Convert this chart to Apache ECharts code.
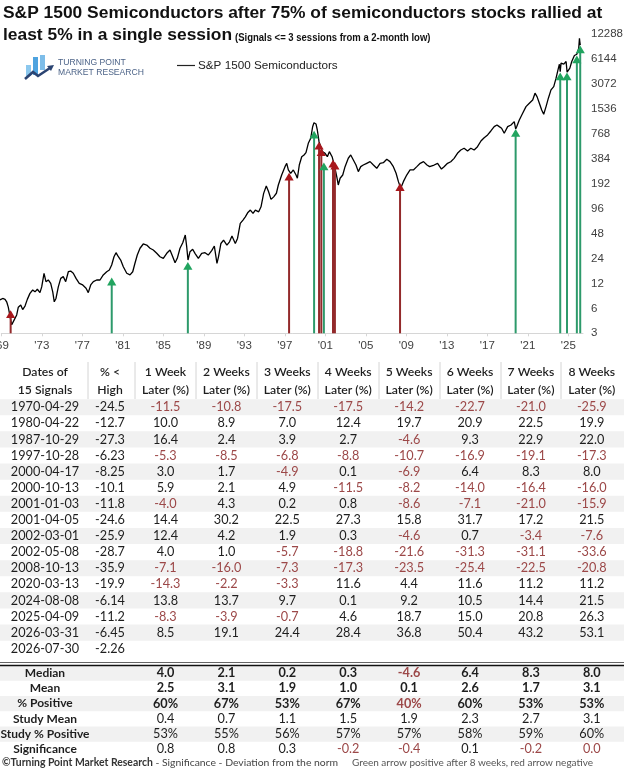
<!DOCTYPE html>
<html><head><meta charset="utf-8">
<script src="https://cdn.jsdelivr.net/npm/echarts@6/dist/echarts.min.js"></script>
<style>html,body{margin:0;padding:0;background:#fff}#c{width:624px;height:769px}</style>
</head><body><div id="c"></div>
<script>
// ---------- price line (decimal years, index level) ----------
const priceDates = [1969.27,1969.54,1969.77,1969.93,1970.09,1970.26,1970.43,1970.65,1970.92,1971.08,1971.32,1971.51,1971.74,1971.97,1972.23,1972.50,1972.73,1972.96,1973.22,1973.39,1973.62,1973.81,1974.04,1974.28,1974.48,1974.63,1974.80,1975.03,1975.27,1975.52,1975.76,1976.02,1976.25,1976.51,1976.78,1977.10,1977.44,1977.77,1977.99,1978.23,1978.49,1978.82,1979.15,1979.47,1979.81,1980.07,1980.30,1980.53,1980.73,1980.96,1981.19,1981.45,1981.79,1982.11,1982.38,1982.60,1982.83,1983.10,1983.42,1983.76,1984.09,1984.41,1984.75,1985.07,1985.40,1985.74,1986.06,1986.33,1986.56,1986.78,1987.05,1987.32,1987.57,1987.71,1987.84,1988.04,1988.30,1988.53,1988.86,1989.19,1989.52,1989.84,1990.18,1990.44,1990.70,1990.85,1991.09,1991.35,1991.68,1991.94,1992.18,1992.51,1992.73,1993.00,1993.27,1993.50,1993.73,1994.00,1994.26,1994.49,1994.82,1995.05,1995.31,1995.57,1995.80,1996.04,1996.30,1996.57,1996.76,1997.09,1997.42,1997.59,1997.75,1997.98,1998.24,1998.51,1998.64,1998.83,1999.07,1999.30,1999.49,1999.72,1999.96,2000.15,2000.28,2000.48,2000.61,2000.78,2000.95,2001.11,2001.38,2001.60,2001.80,2002.07,2002.29,2002.53,2002.68,2002.86,2003.12,2003.35,2003.67,2003.91,2004.17,2004.43,2004.66,2004.90,2005.15,2005.49,2005.82,2006.15,2006.48,2006.81,2007.13,2007.47,2007.79,2008.12,2008.39,2008.62,2008.85,2009.11,2009.44,2009.77,2010.10,2010.44,2010.77,2011.10,2011.44,2011.70,2012.15,2012.49,2012.87,2013.13,2013.47,2013.79,2014.12,2014.45,2014.78,2015.11,2015.45,2015.77,2016.10,2016.43,2016.77,2017.09,2017.43,2017.75,2018.08,2018.35,2018.58,2018.81,2019.07,2019.41,2019.74,2020.06,2020.20,2020.30,2020.56,2020.89,2021.22,2021.55,2021.88,2022.11,2022.31,2022.54,2022.77,2022.97,2023.20,2023.43,2023.69,2023.96,2024.19,2024.42,2024.52,2024.60,2024.68,2024.95,2025.18,2025.28,2025.40,2025.55,2025.74,2026.00,2026.24,2026.43,2026.50,2026.54,2026.58];
const prices = [7.6,7.9,7.7,7.2,6.2,4.8,3.8,4.3,5.0,6.2,6.6,5.8,6.4,7.7,9.1,10.0,9.5,10.2,9.3,10.9,15.9,12.6,13.2,12.0,9.5,7.2,7.9,10.9,13.8,14.5,12.6,16.6,16.9,15.9,13.8,12.0,11.5,10.5,9.3,11.5,12.6,13.2,13.2,15.2,16.6,17.4,20.0,25.2,28.2,25.2,23.0,19.1,15.9,15.2,16.6,21.0,26.4,31.9,35.9,34.9,31.9,30.4,27.7,25.2,24.1,27.7,30.4,25.2,21.3,24.1,31.9,37.2,46.1,33.3,23.0,29.0,31.0,27.7,24.1,27.7,28.2,26.4,29.8,33.9,20.9,25.1,36.4,39.9,34.7,38.1,44.7,36.4,41.9,63.6,69.7,76.4,85.4,92.1,84.0,92.1,87.8,100.9,146.6,179.6,153,124,133,147,185,244,308,338,281,256,281,244,223,322,406,426,454,589,677,935,1045,1008,853,616,536,467,446,406,467,406,322,233,185,223,244,308,389,426,371,322,268,308,322,338,354,322,294,338,344,378,354,308,256,203,169,203,244,281,281,308,338,354,322,308,322,338,288,307,338,353,388,446,489,513,476,513,489,536,628,689,743,830,936,981,936,895,779,936,981,1076,880,936,1128,1358,1633,1796,1967,2372,2157,1796,1490,1321,1633,2064,2600,2850,3600,4758,5300,4300,5467,5316,5717,4250,4400,4758,5717,6757,7000,8300,10900,9800,9000];

// ---------- signals ----------
const signalDates = ['1970-04-29','1980-04-22','1987-10-29','1997-10-28','2000-04-17','2000-10-13','2001-01-03','2001-04-05','2002-03-01','2002-05-08','2008-10-13','2020-03-13','2024-08-08','2025-04-09','2026-03-31','2026-07-30'];
const signalPrices = [5.7,14.1,21.8,260,837,616,513,346,374,353,195,878,4209,4209,6757,8924];
const pctBelowHigh = [-24.5,-12.7,-27.3,-6.23,-8.25,-10.1,-11.8,-24.6,-25.9,-28.7,-35.9,-19.9,-6.14,-11.2,-6.45,-2.26];
const week1 = [-11.5,10.0,16.4,-5.3,3.0,5.9,-4.0,14.4,12.4,4.0,-7.1,-14.3,13.8,-8.3,8.5,null];
const week2 = [-10.8,8.9,2.4,-8.5,1.7,2.1,4.3,30.2,4.2,1.0,-16.0,-2.2,13.7,-3.9,19.1,null];
const week3 = [-17.5,7.0,3.9,-6.8,-4.9,4.9,0.2,22.5,1.9,-5.7,-7.3,-3.3,9.7,-0.7,24.4,null];
const week4 = [-17.5,12.4,2.7,-8.8,0.1,-11.5,0.8,27.3,0.3,-18.8,-17.3,11.6,0.1,4.6,28.4,null];
const week5 = [-14.2,19.7,-4.6,-10.7,-6.9,-8.2,-8.6,15.8,-4.6,-21.6,-23.5,4.4,9.2,18.7,36.8,null];
const week6 = [-22.7,20.9,9.3,-16.9,6.4,-14.0,-7.1,31.7,0.7,-31.3,-25.4,11.6,10.5,15.0,50.4,null];
const week7 = [-21.0,22.5,22.9,-19.1,8.3,-16.4,-21.0,17.2,-3.4,-31.1,-22.5,11.2,14.4,20.8,43.2,null];
const week8 = [-25.9,19.9,22.0,-17.3,8.0,-16.0,-15.9,21.5,-7.6,-33.6,-20.8,11.2,21.5,26.3,53.1,null];
const weekHeaders = ['1 Week','2 Weeks','3 Weeks','4 Weeks','5 Weeks','6 Weeks','7 Weeks','8 Weeks'];

// ---------- summary ----------
const summaryLabels = ['Median','Mean','% Positive','Study Mean','Study % Positive','Significance'];
const median = [4.0,2.1,0.2,0.3,-4.6,6.4,8.3,8.0];
const mean = [2.5,3.1,1.9,1.0,0.1,2.6,1.7,3.1];
const pctPositive = [60,67,53,67,40,60,53,53];
const studyMean = [0.4,0.7,1.1,1.5,1.9,2.3,2.7,3.1];
const studyPctPositive = [53,55,56,57,57,58,59,60];
const significance = [0.8,0.8,0.3,-0.2,-0.4,0.1,-0.2,0.0];

const seriesName = 'S&P 1500 Semiconductors';

// ---------- helpers ----------
function decYear(s){const p=s.split('-').map(Number);const a=Date.UTC(p[0],0,1),b=Date.UTC(p[0]+1,0,1);return p[0]+(Date.UTC(p[0],p[1]-1,p[2])-a)/(b-a);}
const lg = v => Math.log2(v/3);
const RED = '#9c4848', INK = '#1e1e1e';
const TF = 'Lato, "Open Sans", sans-serif';
const AF = '"Liberation Sans", Arial, sans-serif';

const chart = echarts.init(document.getElementById('c'), null, {renderer:'canvas', width:624, height:769});

const weeks = [week1,week2,week3,week4,week5,week6,week7,week8];
const colX = [45,110,165.5,226.4,287.3,348.2,409.1,470,530.9,591.8];
const sepX = [88,135,196,257,318,379,440,501,561];
const rowY0 = 407.2, rowStep = 16.1;
const sumY0 = 673, sumStep = 15.25;

const g = [];
function txt(x,y,s,o){o=o||{};g.push({type:'text',x:x,y:y,silent:true,z:10,scaleX:o.scaleX||1,style:{text:s,fill:o.color||INK,font:(o.weight||'normal')+' '+(o.size||12.7)+'px '+(o.family||TF),textAlign:o.align||'center',textVerticalAlign:'middle'}});}
function rect(x,y,w,h,c){g.push({type:'rect',silent:true,z:1,shape:{x:x,y:y,width:w,height:h},style:{fill:c}});}
function hline(y,c,w){g.push({type:'line',silent:true,z:2,shape:{x1:0,y1:y,x2:624,y2:y},style:{stroke:c,lineWidth:w}});}

// title
txt(3,13.5,'S&P 1500 Semiconductors after 75% of semiconductors stocks rallied at',{align:'left',weight:'bold',size:17.4,family:AF,color:'#111'});
txt(3,35.5,'least 5% in a single session',{align:'left',weight:'bold',size:17.4,family:AF,color:'#111'});
txt(235,37.5,'(Signals <= 3 sessions from a 2-month low)',{align:'left',weight:'bold',size:11.6,family:AF,color:'#111',scaleX:0.82});

// logo
g.push({type:'group',silent:true,z:5,children:[
  {type:'rect',shape:{x:26,y:65,width:5,height:11},style:{fill:'#8cc8ee'}},
  {type:'rect',shape:{x:33,y:57,width:5,height:18},style:{fill:'#4ea3df'}},
  {type:'rect',shape:{x:40,y:55,width:5,height:15},style:{fill:'#7dbde9'}},
  {type:'polyline',shape:{points:[[25,79],[33,72],[38,76],[50,68]]},style:{stroke:'#2b4472',lineWidth:2.6,fill:null}},
  {type:'polygon',shape:{points:[[54,65],[47,66],[51,71]]},style:{fill:'#2b4472'}}
]});
txt(58,63,'TURNING POINT',{align:'left',size:8.6,family:AF,color:'#4d6488'});
txt(58,72.5,'MARKET RESEARCH',{align:'left',size:8.6,family:AF,color:'#4d6488'});

// legend (line key + name)
g.push({type:'line',silent:true,z:5,shape:{x1:177,y1:65.5,x2:195,y2:65.5},style:{stroke:'#222',lineWidth:1.2}});
txt(198,65.5,seriesName,{align:'left',size:11.7,family:AF,color:'#222'});

// table header
for(let k=0;k<sepX.length;k++) g.push({type:'line',silent:true,z:2,shape:{x1:sepX[k],y1:362,x2:sepX[k],y2:399},style:{stroke:'#d4d4d4',lineWidth:1}});
const hdr1 = ['Dates of','% <'].concat(weekHeaders);
const hdr2 = ['15 Signals','High'].concat(weekHeaders.map(()=> 'Later (%)'));
hdr1.forEach((s,k)=>txt(colX[k],372,s,{weight:'600',size:12.2}));
hdr2.forEach((s,k)=>txt(colX[k],390,s,{weight:'600',size:12.2}));

// rows
signalDates.forEach((d,i)=>{
  const y = rowY0 + i*rowStep;
  if(i%2===0) rect(0,y-rowStep/2,624,rowStep,'#f1f1f1');
  txt(colX[0],y,d);
  txt(colX[1],y,String(pctBelowHigh[i]));
  weeks.forEach((w,k)=>{ if(w[i]!==null) txt(colX[k+2],y,w[i].toFixed(1),{color:w[i]<0?RED:INK}); });
});
hline(662.5,'#666',1);
hline(665.5,'#111',1.6);

// summary
const sumRows = [
  {v:median, f:x=>x.toFixed(1), bold:true, red:x=>x<0},
  {v:mean, f:x=>x.toFixed(1), bold:true, red:x=>x<0},
  {v:pctPositive, f:x=>x+'%', bold:true, red:x=>x<50},
  {v:studyMean, f:x=>x.toFixed(1), bold:false, red:x=>x<0},
  {v:studyPctPositive, f:x=>x+'%', bold:false, red:x=>x<50},
  {v:significance, f:x=>x.toFixed(1), bold:false, red:x=>x<=0}
];
sumRows.forEach((r,i)=>{
  const y = sumY0 + i*sumStep;
  if(i%2===0) rect(0,y-sumStep/2,624,sumStep,'#f1f1f1');
  txt(45,y,summaryLabels[i],{weight:'bold',size:12});
  r.v.forEach((x,k)=>txt(colX[k+2],y,r.f(x),{weight:r.bold?'bold':'normal',color:r.red(x)?RED:INK}));
});

// footer
g.push({type:'text',x:2,y:763,silent:true,z:10,style:{text:'{b|©Turning Point Market Research}{n| - Significance - Deviation from the norm}',textVerticalAlign:'middle',rich:{b:{font:'bold 10.4px '+TF,fill:'#333'},n:{font:'normal 10.4px '+TF,fill:'#444'}}}});
txt(352,763,'Green arrow positive after 8 weeks, red arrow negative',{align:'left',size:10,color:'#555'});

const option = {
  animation:false,
  backgroundColor:'#fff',
  grid:{left:1.3,right:41,top:34,bottom:435.7,containLabel:false,outerBoundsMode:'none'},
  xAxis:{type:'value',min:1969.4,max:2026.85,interval:4,
    axisLine:{lineStyle:{color:'#d6d6d6',width:1}},
    axisTick:{length:3,lineStyle:{color:'#d6d6d6'}},
    splitLine:{show:false},
    axisLabel:{showMaxLabel:false,margin:7,fontFamily:AF,fontSize:11.5,color:'#404040',
      formatter:v=>"'"+String(Math.floor(v+1e-6)).slice(2)}},
  yAxis:{type:'value',position:'right',min:0,max:12,interval:1,
    axisLine:{show:false},axisTick:{show:false},splitLine:{show:false},
    axisLabel:{margin:8,fontFamily:AF,fontSize:11.5,color:'#404040',formatter:v=>String(Math.round(3*Math.pow(2,v)))}},
  series:[
    {name:seriesName,type:'line',symbol:'none',z:2,
     lineStyle:{color:'#000',width:1.3},itemStyle:{color:'#000'},
     data:priceDates.map((t,i)=>[t,lg(prices[i])])},
    {name:'signals',type:'custom',z:5,clip:false,
     data:signalDates.map((d,i)=>[decYear(d),lg(signalPrices[i]),week8[i]===null?1:week8[i]]),
     renderItem:(params,api)=>{
       const tip=api.coord([api.value(0),api.value(1)]);
       const base=api.coord([api.value(0),0]);
       const up=api.value(2)>=0;
       const lc=up?'#2d9a6b':'#932a2b', hc=up?'#21a45f':'#a8171c';
       const hw=4.6, hh=7.8;
       return {type:'group',children:[
         {type:'line',shape:{x1:tip[0],y1:tip[1]+hh-1,x2:base[0],y2:base[1]},style:{stroke:lc,lineWidth:2}},
         {type:'polygon',shape:{points:[[tip[0],tip[1]],[tip[0]-hw,tip[1]+hh],[tip[0]+hw,tip[1]+hh]]},style:{fill:hc}}
       ]};
     }}
  ],
  graphic:g
};
chart.setOption(option);
</script></body></html>
